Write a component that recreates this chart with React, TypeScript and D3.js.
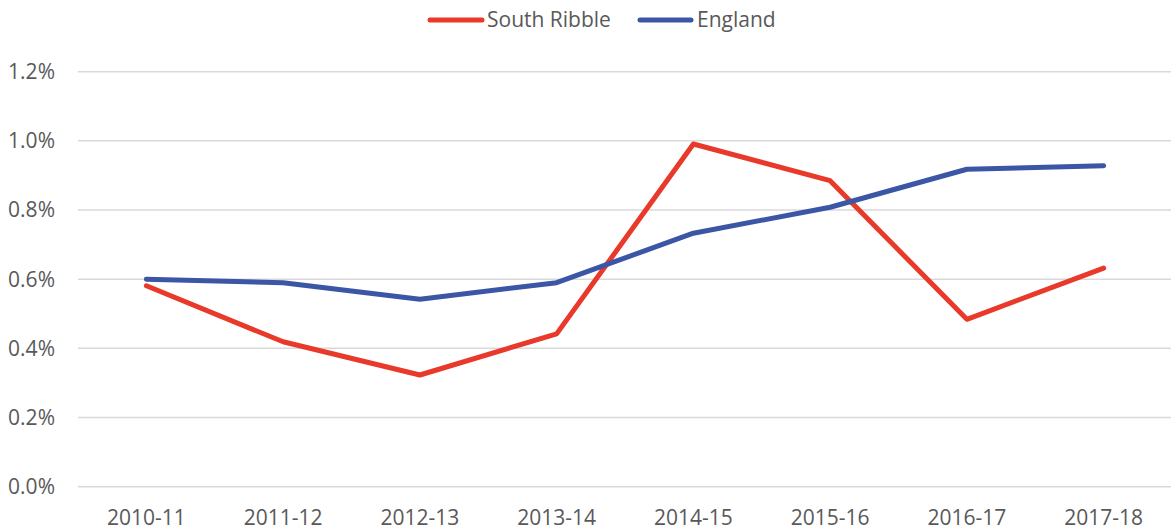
import React from "react";
import * as d3 from "d3";

const categories = ["2010-11", "2011-12", "2012-13", "2013-14", "2014-15", "2015-16", "2016-17", "2017-18"];
const southRibble = [0.581, 0.419, 0.323, 0.442, 0.991, 0.885, 0.484, 0.632];
const england = [0.600, 0.590, 0.542, 0.590, 0.733, 0.808, 0.918, 0.928];
const yTicks = [0, 0.2, 0.4, 0.6, 0.8, 1.0, 1.2];
const seriesNames = ["South Ribble", "England"];
const seriesColors = ["#E8392A", "#3C56A6"];

const W = 1171;
const H = 532;
const FONT = "'Open Sans', 'Liberation Sans', sans-serif";

export default function App() {
  const x = d3.scaleBand<string>().domain(categories).range([78, 1172]);
  const y = d3.scaleLinear().domain([0, 1.2]).range([486.7, 71.7]);
  const line = d3
    .line<number>()
    .x((_, i) => (x(categories[i]) as number) + x.bandwidth() / 2)
    .y((d) => y(d));
  const series = [southRibble, england];

  return (
    <svg
      width={W}
      height={H}
      style={{ position: "absolute", left: 0, top: 0, background: "#fff" }}
      fontFamily={FONT}
    >
      {yTicks.map((t) => (
        <g key={t}>
          <line x1={78} x2={1171} y1={y(t)} y2={y(t)} stroke="#d9d9d9" strokeWidth={1.5} />
          <text x={55} y={y(t)} dy="0.35em" textAnchor="end" fontSize={21} fill="#595959">
            {t.toFixed(1) + "%"}
          </text>
        </g>
      ))}
      {categories.map((c) => (
        <text
          key={c}
          x={(x(c) as number) + x.bandwidth() / 2}
          y={518}
          dy="0.35em"
          textAnchor="middle"
          fontSize={21}
          fill="#595959"
        >
          {c}
        </text>
      ))}
      {series.map((s, i) => (
        <path
          key={seriesNames[i]}
          d={line(s) as string}
          fill="none"
          stroke={seriesColors[i]}
          strokeWidth={5}
          strokeLinejoin="round"
          strokeLinecap="round"
        />
      ))}
      {/* legend */}
      <g>
        <line x1={430} x2={482} y1={20} y2={20} stroke={seriesColors[0]} strokeWidth={5} strokeLinecap="round" />
        <text x={487} y={20} dy="0.35em" fontSize={21} fill="#595959">{seriesNames[0]}</text>
        <line x1={640} x2={691} y1={20} y2={20} stroke={seriesColors[1]} strokeWidth={5} strokeLinecap="round" />
        <text x={697} y={20} dy="0.35em" fontSize={21} fill="#595959">{seriesNames[1]}</text>
      </g>
    </svg>
  );
}
